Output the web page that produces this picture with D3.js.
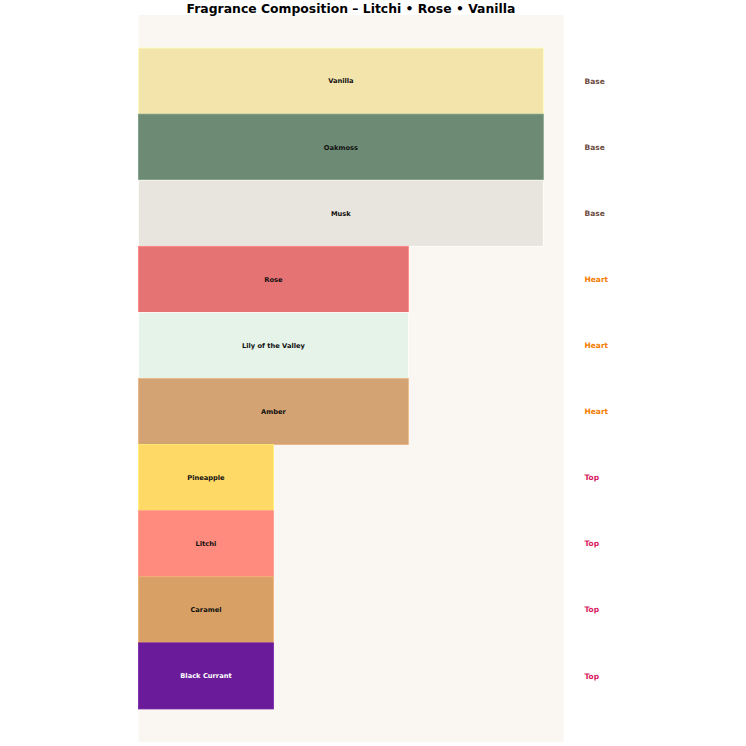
<!DOCTYPE html>
<html><head><meta charset="utf-8">
<script src="https://cdn.jsdelivr.net/npm/d3@7"></script>
<style>html,body{margin:0;padding:0;background:#fff;}svg{display:block;font-family:"DejaVu Sans",sans-serif;}</style>
</head><body><svg id="c" width="746" height="746"></svg>
<script>
const notes = ["Vanilla","Oakmoss","Musk","Rose","Lily of the Valley","Amber","Pineapple","Litchi","Caramel","Black Currant"];
const tiers = ["Base","Base","Base","Heart","Heart","Heart","Top","Top","Top","Top"];
const tierValues = {Base:3, Heart:2, Top:1};
const noteColors = ["#f3e4ab","#6d8b74","#e8e5df","#e57373","#e6f3e8","#d4a373","#ffd966","#ff8a7e","#d9a066","#6a1b9a"];
const tierColors = {Base:"#6d4c41", Heart:"#f57c00", Top:"#d81b60"};

const svg = d3.select("#c");
const m = {l:138.5, r:182.5, t:15, b:4};
const W = 746 - m.l - m.r, H = 746 - m.t - m.b;
const g = svg.append("g").attr("transform",`translate(${m.l},${m.t})`);
g.append("rect").attr("width",W).attr("height",H).attr("fill","#faf7f2");
const x = d3.scaleLinear().domain([0, 3*1.05]).range([0,W]);
const y = d3.scaleBand().domain(notes).range([0,H]).paddingInner(0).paddingOuter(0.5);

const rows = notes.map((n,i)=>({note:n, tier:tiers[i], v:tierValues[tiers[i]], color:noteColors[i]}));
g.selectAll("rect.bar").data(rows).join("rect").attr("class","bar")
  .attr("x",x(0)).attr("y",d=>y(d.note)).attr("width",d=>x(d.v)-x(0)).attr("height",y.bandwidth())
  .attr("fill",d=>d.color).attr("stroke",d=>d3.color(d.color).brighter(0.3)).attr("stroke-width",0.8);
g.selectAll("text.lbl").data(rows).join("text").attr("class","lbl")
  .attr("x",d=>x(d.v)/2).attr("y",d=>y(d.note)+y.bandwidth()/2).attr("dy","0.35em")
  .attr("text-anchor","middle").attr("font-size",6.7).attr("font-weight","bold")
  .attr("fill",d=>d.note==="Black Currant"?"#fff":"#111").text(d=>d.note);
g.selectAll("text.tier").data(rows).join("text").attr("class","tier")
  .attr("x",W+21).attr("y",d=>y(d.note)+y.bandwidth()/2).attr("dy","0.35em")
  .attr("font-size",7.5).attr("font-weight","bold").attr("fill",d=>tierColors[d.tier]).text(d=>d.tier);
svg.append("text").attr("x",m.l+W/2).attr("y",13).attr("text-anchor","middle")
  .attr("font-size",12.4).attr("font-weight","bold").attr("fill","#000")
  .text("Fragrance Composition – Litchi • Rose • Vanilla");
</script></body></html>
